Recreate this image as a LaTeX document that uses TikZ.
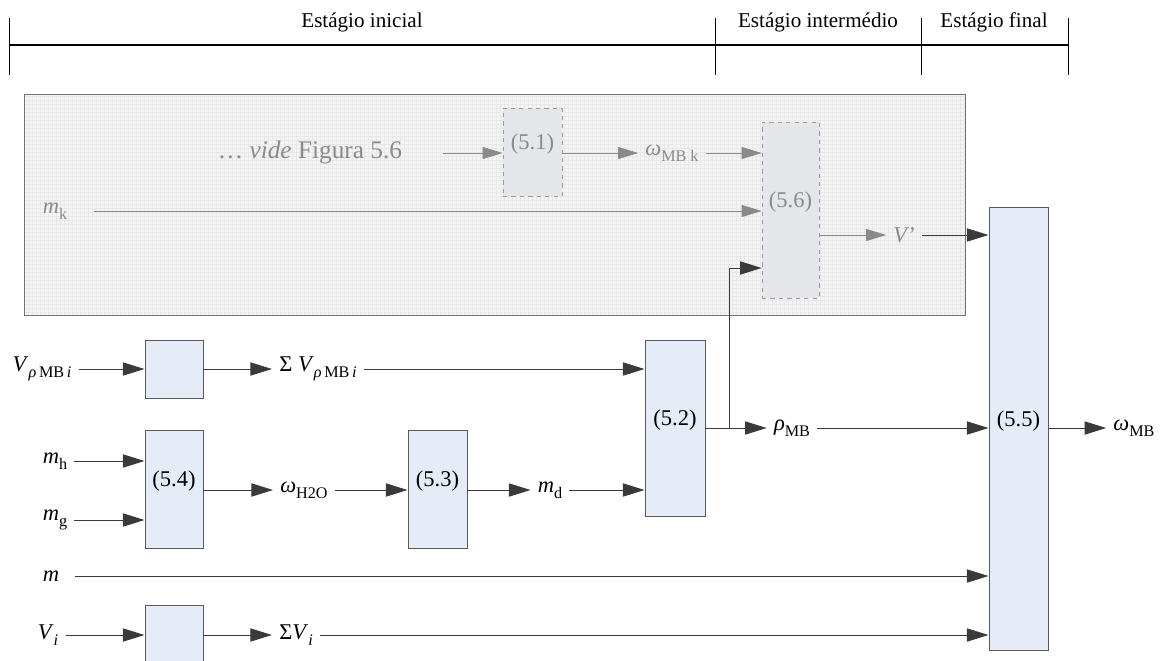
\documentclass[tikz,border=0pt]{standalone}
\usepackage{fontspec}
\setmainfont{Liberation Serif}
\usepackage{tikz}
\usetikzlibrary{arrows.meta}
\usetikzlibrary{fit}
\definecolor{colbox}{HTML}{E5ECF7}
\definecolor{colbxg}{HTML}{E4E6EA}
\definecolor{colpan}{HTML}{F4F4F4}
\definecolor{colgrd}{HTML}{E8E8E8}
\definecolor{coltxg}{HTML}{8A8A8A}
\definecolor{colln}{HTML}{3A3A3A}
\newcommand{\lsub}[1]{\raisebox{-0.55ex}{\fontsize{11.5}{12}\selectfont #1}}

\begin{document}
\begin{tikzpicture}[x=0.025cm, y=-0.025cm, font=\fontsize{16}{19}\selectfont]
    \tikzstyle{blk} += [draw=black!65, fill=colbox, inner sep=0pt, line width=0.7pt];
    \tikzstyle{blkg} += [draw=black!40, fill=colbxg, dashed, inner sep=0pt, line width=0.5pt, text=coltxg];
    \tikzstyle{lbl} += [inner xsep=5pt, inner ysep=1pt];
    \tikzstyle{lblg} += [inner xsep=5pt, inner ysep=1pt, text=coltxg];
    \tikzstyle{arr} += [-{Triangle[length=5.4mm, width=3.3mm]}, line width=0.7pt, draw=colln, fill=black];
    \tikzstyle{arrg} += [-{Triangle[length=5mm, width=3mm]}, line width=0.5pt, draw=coltxg, fill=black!55];
    \useasboundingbox (0,0) rectangle (1160,660);

    % stages
    \draw[line width=0.8pt] (9,45) -- (1068,45);
    \foreach \x in {9, 715, 921, 1068}
      \draw[line width=0.6pt] (\x,18) -- (\x,75);
    \node (sini) at (362,22) [font=\fontsize{15}{18}\selectfont]{Estágio inicial};
    \node (sint) at (818,22) [font=\fontsize{15}{18}\selectfont]{Estágio intermédio};
    \node (sfin) at (994,22) [font=\fontsize{15}{18}\selectfont]{Estágio final};

    % grey panel
    \node (panel) [fit={(25,95) (965,315)}, inner sep=0pt, fill=colpan]{};
    \draw[colgrd, line width=0.2pt, step=0.1cm] (25,95) grid (965,315);
    \draw[draw=black!55, line width=0.8pt] (panel.north west) rectangle (panel.south east);

    \node (b51) [blkg, fit={(503,108) (562,196)}]{(5.1)};
    \node (b56) [blkg, fit={(762,122) (819,298)}]{(5.6)};
    \node (vide) at (310,152) [lblg, font=\fontsize{18}{20}\selectfont]{\dots\ \textit{vide} Figura 5.6};
    \coordinate (vfree) at (443,153);
    \node (omk)  at (672,153) [lblg]{\textit{ω}\lsub{MB k}};
    \node (mk)   at (55,211)  [lblg]{\textit{m}\lsub{k}};
    \node (vp)   at (904,235) [lblg]{\textit{V’}};

    % blocks
    \node (bsa) [blk, fit={(145,340) (203,398)}]{};
    \node (b54) [blk, fit={(145,430) (203,548)}]{(5.4)};
    \node (b53) [blk, fit={(408,430) (467,548)}]{(5.3)};
    \node (b52) [blk, fit={(645,340) (705,516)}]{(5.2)};
    \node (bsb) [blk, fit={(145,605) (203,663)}]{};
    \node (b55) [blk, fit={(989,207) (1048,650)}]{(5.5)};

    % labels
    \node (vrho) at (42,369)  [lbl]{\textit{V}\lsub{\textit{ρ}\,MB\,\textit{i}}};
    \node (svrho) at (318,369) [lbl]{Σ \textit{V}\lsub{\textit{ρ}\,MB\,\textit{i}}};
    \node (mh)   at (55,461)  [lbl]{\textit{m}\lsub{h}};
    \node (mg)   at (55,520)  [lbl]{\textit{m}\lsub{g}};
    \node (wh2o) at (304,490) [lbl]{\textit{ω}\lsub{H2O}};
    \node (md)   at (550,490) [lbl]{\textit{m}\lsub{d}};
    \node (rmb)  at (792,428) [lbl]{\textit{ρ}\lsub{MB}};
    \node (wmb)  at (1134,428) [lbl]{\textit{ω}\lsub{MB}};
    \node (m)    at (51,576)  [lbl]{\textit{m}};
    \node (vi)   at (48,635)  [lbl]{\textit{V}\lsub{\textit{i}}};
    \node (svi)  at (296,635) [lbl]{Σ\textit{V}\lsub{\textit{i}}};
    \coordinate (br) at (729,428);
    \coordinate (kn) at (729,268);

    \begin{scope}[arrg]
      \draw (vfree) -- (b51.west |- vfree);
      \draw (b51.east |- vfree) -- (omk.west);
      \draw (omk.east) -- (omk.east -| b56.west);
      \draw[shorten <=14pt] (mk.east) -- (mk.east -| b56.west);
      \draw (b56.east |- vp) -- (vp.west);
    \end{scope}

    \begin{scope}[arr]
      \draw (vp.east) -- (vp.east -| b55.west);
      \draw (vrho.east) -- (vrho.east -| bsa.west);
      \draw (bsa.east) -- (svrho.west);
      \draw (svrho.east) -- (svrho.east -| b52.west);
      \draw (mh.east) -- (mh.east -| b54.west);
      \draw (mg.east) -- (mg.east -| b54.west);
      \draw (b54.east |- wh2o) -- (wh2o.west);
      \draw (wh2o.east) -- (wh2o.east -| b53.west);
      \draw (b53.east |- md) -- (md.west);
      \draw (md.east) -- (md.east -| b52.west);
      \draw (b52.east |- br) -- (rmb.west);
      \draw (br) -- (kn) -- (kn -| b56.west);
      \draw (rmb.east) -- (rmb.east -| b55.west);
      \draw (b55.east |- wmb) -- (wmb.west);
      \draw[shorten <=6pt] (m.east) -- (m.east -| b55.west);
      \draw (vi.east) -- (vi.east -| bsb.west);
      \draw (bsb.east |- vi) -- (svi.west);
      \draw (svi.east) -- (svi.east -| b55.west);
    \end{scope}
\end{tikzpicture}
\end{document}
